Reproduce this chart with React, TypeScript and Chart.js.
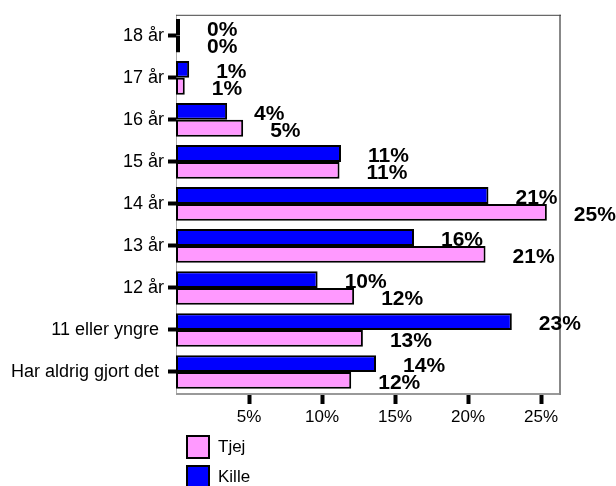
import React, { useEffect, useRef } from "react";
import { Chart, registerables } from "chart.js";

Chart.register(...registerables);

const categories = [
  "18 år",
  "17 år",
  "16 år",
  "15 år",
  "14 år",
  "13 år",
  "12 år",
  "11 eller yngre ",
  "Har aldrig gjort det ",
];
const killeValues = [0, 0.9, 3.5, 11.3, 21.4, 16.3, 9.7, 23.0, 13.7];
const tjejValues = [0, 0.6, 4.6, 11.2, 25.4, 21.2, 12.2, 12.8, 12.0];
const xTickValues = [5, 10, 15, 20, 25];
const xMax = 26.3;

const FONT = "Arial, 'Liberation Sans', sans-serif";
const PINK = "#FF99FF";
const BLUE = "#0000FF";

const boxPlugin = {
  id: "boxAndLabels",
  beforeDatasetsDraw(chart: any) {
    const { ctx, chartArea: a } = chart;
    ctx.save();
    ctx.strokeStyle = "#aaaaaa";
    ctx.lineWidth = 1;
    ctx.beginPath();
    ctx.moveTo(a.left + 0.5, a.top);
    ctx.lineTo(a.left + 0.5, a.bottom);
    ctx.stroke();
    ctx.strokeStyle = "#999999";
    ctx.lineWidth = 2;
    ctx.beginPath();
    ctx.moveTo(a.left, a.bottom + 1);
    ctx.lineTo(a.right, a.bottom + 1);
    ctx.stroke();
    ctx.strokeStyle = "#888888";
    ctx.beginPath();
    ctx.moveTo(a.right, a.top);
    ctx.lineTo(a.right, a.bottom + 2);
    ctx.stroke();
    ctx.strokeStyle = "#444444";
    ctx.lineWidth = 1;
    ctx.beginPath();
    ctx.moveTo(a.left, a.top + 0.5);
    ctx.lineTo(a.right + 1, a.top + 0.5);
    ctx.stroke();
    ctx.restore();
  },
  afterDatasetsDraw(chart: any) {
    const { ctx } = chart;
    ctx.save();
    ctx.font = `bold 21px ${FONT}`;
    ctx.fillStyle = "#000";
    ctx.textAlign = "left";
    ctx.textBaseline = "middle";
    chart.data.datasets.forEach((ds: any, di: number) => {
      const meta = chart.getDatasetMeta(di);
      meta.data.forEach((bar: any, i: number) => {
        const v = ds.data[i] as number;
        ctx.fillText(`${Math.round(v)}%`, bar.x + 27, bar.y + 3);
      });
    });
    ctx.restore();
  },
};

export default function App() {
  const ref = useRef<HTMLCanvasElement | null>(null);

  useEffect(() => {
    if (!ref.current) return;
    const chart = new Chart(ref.current, {
      type: "bar",
      data: {
        labels: categories,
        datasets: [
          {
            label: "Kille",
            data: killeValues,
            backgroundColor: BLUE,
            borderColor: "#000",
            borderWidth: 2,
            borderSkipped: false,
            minBarLength: 4,
            categoryPercentage: 0.8,
            barPercentage: 1.0,
          },
          {
            label: "Tjej",
            data: tjejValues,
            backgroundColor: PINK,
            borderColor: "#000",
            borderWidth: 2,
            borderSkipped: false,
            minBarLength: 4,
            categoryPercentage: 0.8,
            barPercentage: 1.0,
          },
        ],
      },
      options: {
        indexAxis: "y",
        responsive: false,
        animation: false,
        layout: { padding: { top: 12, right: 56, left: 0, bottom: 53 } },
        plugins: {
          legend: { display: false },
          tooltip: { enabled: false },
        },
        scales: {
          x: {
            min: 0,
            max: xMax,
            afterBuildTicks: (scale: any) => {
              scale.ticks = xTickValues.map((v) => ({ value: v }));
            },
            afterFit: (scale: any) => {
              scale.height = 40;
            },
            border: { display: false },
            grid: {
              drawOnChartArea: false,
              drawTicks: true,
              tickLength: 11,
              tickWidth: 4,
              tickColor: "#000",
            },
            ticks: {
              padding: 3,
              color: "#000",
              font: { family: FONT, size: 17 },
              callback: (v: any) => `${v}%`,
            },
          },
          y: {
            afterFit: (scale: any) => {
              scale.width = 176;
            },
            border: { display: false },
            grid: {
              offset: false,
              drawOnChartArea: false,
              drawTicks: true,
              tickLength: 8,
              tickWidth: 4,
              tickColor: "#000",
            },
            ticks: {
              padding: 4,
              color: "#000",
              font: { family: FONT, size: 18 },
            },
          },
        },
      },
      plugins: [boxPlugin],
    });
    return () => chart.destroy();
  }, []);

  const legendItems = [
    { label: "Tjej", color: PINK, top: 435 },
    { label: "Kille", color: BLUE, top: 465 },
  ];

  return (
    <div
      style={{
        position: "fixed",
        left: 0,
        top: 0,
        width: 616,
        height: 486,
        background: "#fff",
        overflow: "hidden",
      }}
    >
      <canvas ref={ref} width={616} height={486} style={{ display: "block" }} />
      {legendItems.map((it) => (
        <div
          key={it.label}
          style={{
            position: "absolute",
            left: 186,
            top: it.top,
            height: 24,
            display: "flex",
            alignItems: "center",
            fontFamily: FONT,
            fontSize: 17,
            color: "#000",
          }}
        >
          <div
            style={{
              width: 20,
              height: 20,
              border: "2px solid #000",
              background: it.color,
              marginRight: 8,
            }}
          />
          <span>{it.label}</span>
        </div>
      ))}
    </div>
  );
}
